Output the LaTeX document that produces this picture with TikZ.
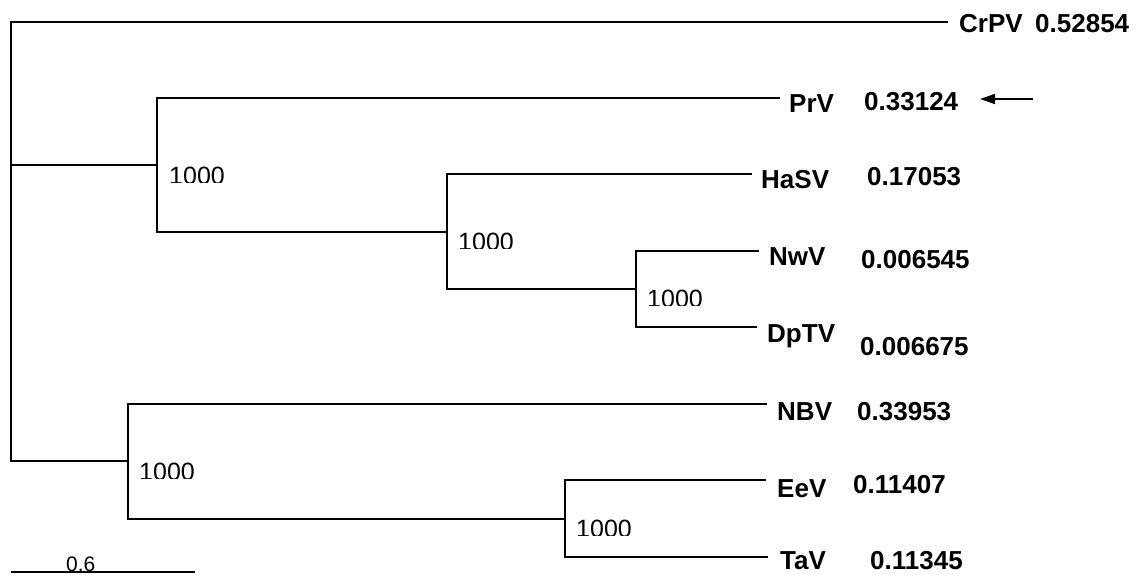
\documentclass[tikz,border=0pt]{standalone}
\usepackage{fontspec}
\setmainfont{Liberation Sans}
\usetikzlibrary{arrows.meta}
\tikzset{
  branch/.style={line width=1.1pt, line join=miter},
  taxon/.style={font=\fontsize{26}{26}\selectfont\bfseries, inner sep=0pt, anchor=base west},
  boot/.style={font=\fontsize{25}{25}\selectfont, inner sep=0pt, anchor=base west},
  scalelbl/.style={font=\fontsize{21}{21}\selectfont, inner sep=0pt, anchor=base west},
  pointer/.style={line width=1.6pt, -{Triangle[length=15pt,width=10pt]}}
}
% #1 name, #2 x, #3 top of digits, #4 text
\newcommand\bootval[4]{%
  \begin{scope}
    \clip (#2-3,#3-6) rectangle (#2+70,#3+15.8);
    \node[boot] (#1) at (#2,#3+17.9) {#4};
  \end{scope}}
\begin{document}
\begin{tikzpicture}[x=1pt,y=-1pt]
\useasboundingbox (0,0) rectangle (1141,574);
% internal nodes
\coordinate (r)  at (11,165);
\coordinate (nA) at (157,165);
\coordinate (nB) at (447,232);
\coordinate (nC) at (636,289);
\coordinate (nD) at (128,461);
\coordinate (nE) at (565,519);
% tips
\coordinate (tCrPV) at (948,22);
\coordinate (tPrV)  at (780,98);
\coordinate (tHaSV) at (752,174);
\coordinate (tNwV)  at (759,251);
\coordinate (tDpTV) at (757,327);
\coordinate (tNBV)  at (767,404);
\coordinate (tEeV)  at (766,480);
\coordinate (tTaV)  at (768,557);
% branches
\draw[branch] (r) |- (tCrPV);
\draw[branch] (r) -- (nA);
\draw[branch] (r) |- (nD);
\draw[branch] (nA) |- (tPrV);
\draw[branch] (nA) |- (nB);
\draw[branch] (nB) |- (tHaSV);
\draw[branch] (nB) |- (nC);
\draw[branch] (nC) |- (tNwV);
\draw[branch] (nC) |- (tDpTV);
\draw[branch] (nD) |- (tNBV);
\draw[branch] (nD) |- (nE);
\draw[branch] (nE) |- (tEeV);
\draw[branch] (nE) |- (tTaV);
% taxon labels
\node[taxon] (lCrPV) at (959,32)  {CrPV};
\node[taxon] (vCrPV) at (1035,32) {0.52854};
\node[taxon] (lPrV)  at (789,112) {PrV};
\node[taxon] (vPrV)  at (864,110) {0.33124};
\node[taxon] (lHaSV) at (761,188) {HaSV};
\node[taxon] (vHaSV) at (867,185) {0.17053};
\node[taxon] (lNwV)  at (769,265) {NwV};
\node[taxon] (vNwV)  at (861,268) {0.006545};
\node[taxon] (lDpTV) at (767,342) {DpTV};
\node[taxon] (vDpTV) at (860,355) {0.006675};
\node[taxon] (lNBV)  at (777,420) {NBV};
\node[taxon] (vNBV)  at (857,420) {0.33953};
\node[taxon] (lEeV)  at (777,497) {EeV};
\node[taxon] (vEeV)  at (853,493) {0.11407};
\node[taxon] (lTaV)  at (780,569) {TaV};
\node[taxon] (vTaV)  at (870,569) {0.11345};
% bootstrap values
\bootval{bA}{169}{167}{1000}
\bootval{bB}{458}{233}{1000}
\bootval{bC}{647}{290}{1000}
\bootval{bD}{139}{463}{1000}
\bootval{bE}{576}{520}{1000}
% pointer arrow
\coordinate (arT) at (1033,99);
\coordinate (arH) at (980,99);
\draw[pointer] (arT) -- (arH);
% scale bar
\coordinate (sb1) at (11,572);
\coordinate (sb2) at (195,572);
\draw[branch] (sb1) -- (sb2);
\node[scalelbl] (sbl) at (66,571) {0.6};
\end{tikzpicture}
\end{document}
